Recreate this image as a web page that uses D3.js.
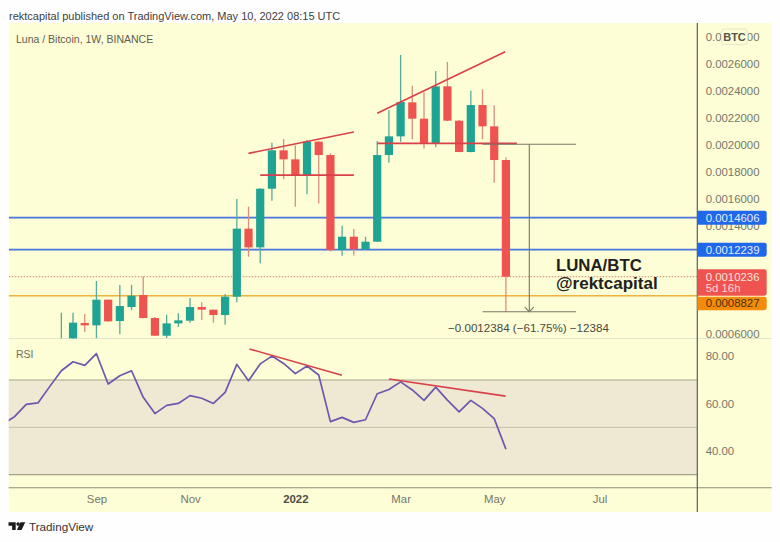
<!DOCTYPE html>
<html>
<head>
<meta charset="utf-8">
<script src="https://cdn.jsdelivr.net/npm/d3@7"></script>
<style>
  html, body { margin: 0; padding: 0; background: #fefefe; }
  svg { display: block; }
  text { font-family: "Liberation Sans", Arial, sans-serif; }
</style>
</head>
<body>
<svg id="chart"></svg>
<script>
// weeks are counted from the first candle, 38 = week of May 9 2022
var weeks = d3.range(0, 39)
var opens = [0.00052, 0.000565, 0.0006811, 0.0006639, 0.0008537, 0.0006959, 0.0007994, 0.0008882, 0.0007181, 0.0005874, 0.0006786, 0.0006983, 0.0007994, 0.0007797, 0.0007403, 0.0008758, 0.0013785, 0.0012405, 0.0016743, 0.0019578, 0.0018912, 0.0017754, 0.0020219, 0.0019233, 0.0012207, 0.0013193, 0.0012257, 0.0012824, 0.0019233, 0.0020613, 0.0023127, 0.002192, 0.0020095, 0.0024311, 0.0021772, 0.0019455, 0.002293, 0.0021353, 0.0018863]
var highs = [0.0007575, 0.0007575, 0.0007477, 0.0009917, 0.000856, 0.0009621, 0.0009646, 0.0010262, 0.0007255, 0.0007427, 0.0007526, 0.000866, 0.0008339, 0.000782, 0.0008956, 0.0015981, 0.0015412, 0.001677, 0.0020145, 0.0020416, 0.0019948, 0.0020342, 0.0020293, 0.0019356, 0.0014007, 0.0013761, 0.0013193, 0.0020268, 0.002256, 0.0026628, 0.002436, 0.0023867, 0.0025445, 0.002611, 0.0021821, 0.002399, 0.0024089, 0.0022906, 0.001906]
var lows = [0.0005, 0.00056, 0.0006145, 0.0005677, 0.00069, 0.0005973, 0.0007772, 0.0007156, 0.000585, 0.0005702, 0.0006515, 0.0006836, 0.0007033, 0.0006836, 0.0006688, 0.0008339, 0.0011715, 0.0011222, 0.0015856, 0.0017433, 0.0015412, 0.0016324, 0.0015658, 0.0012109, 0.0011789, 0.0011813, 0.001223, 0.00128, 0.0018666, 0.0020219, 0.0020391, 0.0019701, 0.00198, 0.0021747, 0.001943, 0.001943, 0.0020391, 0.0017187, 0.0007648]
var closes = [0.00056, 0.0006836, 0.0006639, 0.0008537, 0.0006934, 0.0008068, 0.0008833, 0.0007181, 0.0005874, 0.0006786, 0.0007008, 0.0007994, 0.0007797, 0.0007403, 0.0008758, 0.0013787, 0.0012405, 0.0016743, 0.0019578, 0.0018912, 0.0017754, 0.0020219, 0.0019233, 0.0012207, 0.0013193, 0.0012257, 0.0012824, 0.0019233, 0.0020613, 0.0023152, 0.002192, 0.0020095, 0.0024311, 0.0021772, 0.0019455, 0.002293, 0.0021353, 0.0018863, 0.0010236]

var rsiWeeks = d3.range(-5, 39)
var rsiValues = [51.5, 54.5, 59.7, 60.3, 67.2, 73.9, 77.7, 76.2, 81.1, 68.3, 71.8, 73.9, 62.7, 55.8, 59.3, 60.1, 63.4, 62.3, 60.1, 64.8, 76.6, 69.7, 76.8, 80.1, 77.0, 72.7, 75.9, 72.1, 52.4, 54.2, 52.1, 53.2, 64.2, 66.0, 69.2, 65.8, 61.4, 67.0, 61.5, 56.5, 61.4, 58.0, 53.7, 40.8]

// the ticks under the price tags are fully covered in the picture, so left out
var priceTicks = [0.0006, 0.0014, 0.0016, 0.0018, 0.002, 0.0022, 0.0024, 0.0026, 0.0028]
var rsiTicks = [40, 60, 80]
var rsiLevels = [70, 50, 30]
var timeTicks = [3, 11, 20, 29, 37, 46]
var timeLabels = ["Sep", "Nov", "2022", "Mar", "May", "Jul"]

// [week, price] end points of the drawn trend lines
var priceTrendLines = [
  [[16, 0.0019356], [25, 0.0020934]],
  [[17, 0.0017754], [25, 0.0017754]],
  [[27, 0.0022314], [37.94, 0.0026874]],
  [[27, 0.0020095], [38.94, 0.0020095]]
]
var rsiTrendLines = [
  [[16.08, 83.1], [23.98, 72.0]],
  [[28, 70.4], [37.97, 63.2]]
]
var measureTop = 0.0020032, measureBottom = 0.0007648
var measureWeeks = [36, 40, 44]

var blueLevels = [0.0014606, 0.0012239]
var orangeLevel = 0.0008827
var lastPrice = 0.0010236

var screen = {width: 780, height: 542}
var frame = {left: 8.7, right: 771.7, top: 23, bottom: 512}
var axisX = 697.3
var mainBottom = 338.5, rsiBottom = 487.7

var svg = d3.select("#chart")
            .attr("width", screen.width)
            .attr("height", screen.height)

var xScale = d3.scaleLinear().domain([-4.5, 54.36]).range([frame.left, axisX])
var yScale = d3.scaleLinear().domain([0.0006, 0.0026]).range([334, 63.5])
var rsiScale = d3.scaleLinear().domain([30, 70]).range([474.7, 380])

var defs = svg.append("defs")
defs.append("clipPath").attr("id", "mainClip").append("rect")
    .attr("x", frame.left).attr("y", frame.top)
    .attr("width", axisX - frame.left).attr("height", mainBottom - frame.top)
defs.append("clipPath").attr("id", "rsiClip").append("rect")
    .attr("x", frame.left).attr("y", mainBottom)
    .attr("width", axisX - frame.left).attr("height", rsiBottom - mainBottom)

// backgrounds
svg.append("rect")
   .attr("x", frame.left).attr("y", frame.top)
   .attr("width", frame.right - frame.left).attr("height", frame.bottom - frame.top)
   .attr("fill", "#fdfdd6")

svg.append("rect")
   .attr("x", frame.left).attr("y", rsiScale(70))
   .attr("width", axisX - frame.left).attr("height", rsiScale(30) - rsiScale(70))
   .attr("fill", "#efe9d3")

svg.append("line")
   .attr("x1", frame.left).attr("x2", frame.right)
   .attr("y1", mainBottom).attr("y2", mainBottom)
   .attr("stroke", "#e4e4cc").attr("stroke-width", 1)

var main = svg.append("g").attr("clip-path", "url(#mainClip)")

// horizontal levels
main.selectAll(".blue")
    .data(blueLevels)
    .enter()
    .append("line")
    .attr("class", "blue")
    .attr("x1", frame.left).attr("x2", axisX)
    .attr("y1", function(d){return yScale(d);})
    .attr("y2", function(d){return yScale(d);})
    .attr("stroke", "#4a74e0").attr("stroke-width", 1.9)

main.append("line")
    .attr("x1", frame.left).attr("x2", axisX)
    .attr("y1", yScale(orangeLevel)).attr("y2", yScale(orangeLevel))
    .attr("stroke", "#ecb43c").attr("stroke-width", 1.3)

main.append("line")
    .attr("x1", frame.left).attr("x2", axisX)
    .attr("y1", yScale(lastPrice)).attr("y2", yScale(lastPrice))
    .attr("stroke", "#c98a70").attr("stroke-width", 1)
    .attr("stroke-dasharray", "1.5 1.5")

// candles
var isUp = function(i){return closes[i] >= opens[i];}

main.selectAll(".wick")
    .data(weeks)
    .enter()
    .append("line")
    .attr("class", "wick")
    .attr("x1", function(d){return xScale(d);})
    .attr("x2", function(d){return xScale(d);})
    .attr("y1", function(d,i){return yScale(highs[i]);})
    .attr("y2", function(d,i){return yScale(lows[i]);})
    .attr("stroke", function(d,i){return isUp(i) ? "#5aa99d" : "#d9907f";})
    .attr("stroke-width", 1.3)

main.selectAll(".body")
    .data(weeks)
    .enter()
    .append("rect")
    .attr("class", "body")
    .attr("x", function(d){return xScale(d) - 4.1;})
    .attr("width", 8.2)
    .attr("y", function(d,i){return yScale(Math.max(opens[i], closes[i]));})
    .attr("height", function(d,i){return Math.abs(yScale(opens[i]) - yScale(closes[i]));})
    .attr("fill", function(d,i){return isUp(i) ? "#1fa393" : "#ee5350";})

// price measure tool
var measure = svg.append("g").attr("stroke", "#77776a").attr("fill", "none").attr("stroke-width", 1.1)
measure.append("line")
       .attr("x1", xScale(measureWeeks[0])).attr("x2", xScale(measureWeeks[2]))
       .attr("y1", yScale(measureTop)).attr("y2", yScale(measureTop))
measure.append("line")
       .attr("x1", xScale(measureWeeks[0])).attr("x2", xScale(measureWeeks[2]))
       .attr("y1", yScale(measureBottom)).attr("y2", yScale(measureBottom))
measure.append("line")
       .attr("x1", xScale(measureWeeks[1])).attr("x2", xScale(measureWeeks[1]))
       .attr("y1", yScale(measureTop)).attr("y2", yScale(measureBottom))
measure.append("polyline")
       .attr("points", function(){
         var ax = xScale(measureWeeks[1]), ay = yScale(measureBottom)
         return [[ax - 4.5, ay - 4.5], [ax, ay], [ax + 4.5, ay - 4.5]].join(" ")
       })

var priceLine = d3.line()
                  .x(function(d){return xScale(d[0]);})
                  .y(function(d){return yScale(d[1]);})
var rsiTrend = d3.line()
                 .x(function(d){return xScale(d[0]);})
                 .y(function(d){return rsiScale(d[1]);})

main.selectAll(".trend")
    .data(priceTrendLines)
    .enter()
    .append("path")
    .attr("class", "trend")
    .attr("d", priceLine)
    .attr("fill", "none")
    .attr("stroke", "#d8414a")
    .attr("stroke-width", 1.7)

// RSI pane
var rsi = svg.append("g").attr("clip-path", "url(#rsiClip)")

rsi.selectAll(".level")
   .data(rsiLevels)
   .enter()
   .append("line")
   .attr("class", "level")
   .attr("x1", frame.left).attr("x2", axisX)
   .attr("y1", function(d){return rsiScale(d);})
   .attr("y2", function(d){return rsiScale(d);})
   .attr("stroke", function(d){return d == 50 ? "#bdbba4" : "#a5a38d";})
   .attr("stroke-width", function(d){return d == 50 ? 0.9 : 1.2;})

var rsiLine = d3.line()
                .x(function(d){return xScale(d);})
                .y(function(d,i){return rsiScale(rsiValues[i]);})

rsi.append("path")
   .datum(rsiWeeks)
   .attr("d", rsiLine)
   .attr("fill", "none")
   .attr("stroke", "#6a59ae")
   .attr("stroke-width", 1.7)
   .attr("stroke-linejoin", "round")

rsi.selectAll(".rsiTrend")
   .data(rsiTrendLines)
   .enter()
   .append("path")
   .attr("class", "rsiTrend")
   .attr("d", rsiTrend)
   .attr("fill", "none")
   .attr("stroke", "#d8414a")
   .attr("stroke-width", 1.6)

// frame lines
svg.append("line")
   .attr("x1", frame.left).attr("x2", frame.right)
   .attr("y1", rsiBottom).attr("y2", rsiBottom)
   .attr("stroke", "#8e8e7c").attr("stroke-width", 1.1)

svg.append("line")
   .attr("x1", axisX).attr("x2", axisX)
   .attr("y1", frame.top).attr("y2", frame.bottom)
   .attr("stroke", "#5f5f55").attr("stroke-width", 1.2)

// axes
var styleAxis = function(g)
{
  g.select(".domain").remove()
  g.selectAll(".tick line").remove()
  g.selectAll("text")
   .attr("fill", "#77776a")
   .style("font-family", "'Liberation Sans', Arial, sans-serif")
   .style("font-size", "11.4px")
}

var yAxis = d3.axisRight(yScale)
              .tickValues(priceTicks)
              .tickFormat(d3.format(".7f"))
              .tickPadding(2.4)
svg.append("g").classed("yAxis", true)
   .attr("transform", "translate(" + axisX + ",0)")
   .call(yAxis)
   .call(styleAxis)

var rsiAxis = d3.axisRight(rsiScale)
                .tickValues(rsiTicks)
                .tickFormat(d3.format(".2f"))
                .tickPadding(2.4)
svg.append("g").classed("rsiAxis", true)
   .attr("transform", "translate(" + axisX + ",0)")
   .call(rsiAxis)
   .call(styleAxis)

var xAxis = d3.axisBottom(xScale)
              .tickValues(timeTicks)
              .tickFormat(function(d,i){return timeLabels[i];})
              .tickPadding(1.2)
svg.append("g").classed("xAxis", true)
   .attr("transform", "translate(0," + rsiBottom + ")")
   .call(xAxis)
   .call(styleAxis)
   .selectAll("text")
   .attr("fill", function(d){return d == 20 ? "#4c4c44" : "#77776a";})
   .style("font-weight", function(d){return d == 20 ? "bold" : "normal";})

// price labels on the axis
var priceTag = function(top, height, fill)
{
  svg.append("path")
     .attr("d", "M" + axisX + "," + top + "h67q2.4,0 2.4,2.4v" + (height - 4.8) + "q0,2.4 -2.4,2.4h-67z")
     .attr("fill", fill)
}

priceTag(210.7, 14, "#2068ea")
priceTag(242.7, 14, "#2068ea")
priceTag(269.3, 26.4, "#ee5350")
priceTag(296.7, 13.5, "#f58b0a")

var tagText = function(txt, y, fill)
{
  svg.append("text")
     .attr("x", 705.7).attr("y", y)
     .attr("dy", "0.35em")
     .attr("fill", fill)
     .style("font-size", "11.4px")
     .text(txt)
}

var fmt = d3.format(".7f")
tagText(fmt(blueLevels[0]), yScale(blueLevels[0]), "#e4ecfb")
tagText(fmt(blueLevels[1]), yScale(blueLevels[1]), "#e4ecfb")
tagText(fmt(lastPrice), yScale(lastPrice), "#fbe3dd")
tagText("5d 16h", 288.3, "#fbd6cf")
tagText(fmt(orangeLevel), 303.3, "#4a3208")

// BTC badge sits over the top tick
svg.append("rect")
   .attr("x", 721.7).attr("y", 29)
   .attr("width", 25.6).attr("height", 15.7)
   .attr("rx", 3)
   .attr("fill", "#fdfdd6")
   .attr("stroke", "#e6e6c8")
svg.append("text")
   .attr("x", 734.5).attr("y", 36.9)
   .attr("dy", "0.35em")
   .attr("text-anchor", "middle")
   .attr("fill", "#55554c")
   .style("font-size", "11px")
   .style("font-weight", "bold")
   .text("BTC")

// texts
svg.append("text")
   .attr("x", 9).attr("y", 19.5)
   .attr("fill", "#3e3e3e")
   .style("font-size", "11px")
   .text("rektcapital published on TradingView.com, May 10, 2022 08:15 UTC")

svg.append("text")
   .attr("x", 16).attr("y", 43)
   .attr("fill", "#5e5e54")
   .style("font-size", "10.5px")
   .text("Luna / Bitcoin, 1W, BINANCE")

svg.append("text")
   .attr("x", 16).attr("y", 358)
   .attr("fill", "#6e6e62")
   .style("font-size", "10.5px")
   .text("RSI")

svg.append("text")
   .attr("x", 556).attr("y", 271)
   .attr("fill", "#1f1f1f")
   .style("font-size", "16.8px")
   .style("font-weight", "bold")
   .text("LUNA/BTC")

svg.append("text")
   .attr("x", 556).attr("y", 288.5)
   .attr("fill", "#1f1f1f")
   .style("font-size", "17px")
   .style("font-weight", "bold")
   .text("@rektcapital")

svg.append("text")
   .attr("x", 448).attr("y", 331.7)
   .attr("fill", "#4a4a42")
   .style("font-size", "11.6px")
   .text("\u22120.0012384 (\u221261.75%) \u221212384")

// footer logo and name
var logo = svg.append("g").attr("transform", "translate(8.5,522.3)").attr("fill", "#1c1c1c")
logo.append("path").attr("d", "M0,0H7.2V7.8H3.6V3.5H0Z")
logo.append("circle").attr("cx", 9.6).attr("cy", 1.8).attr("r", 1.8)
logo.append("path").attr("d", "M12,0H16.8L13,7.8H8.4Z")

svg.append("text")
   .attr("x", 29).attr("y", 530.5)
   .attr("fill", "#333")
   .style("font-size", "11.7px")
   .text("TradingView")
</script>
</body>
</html>
